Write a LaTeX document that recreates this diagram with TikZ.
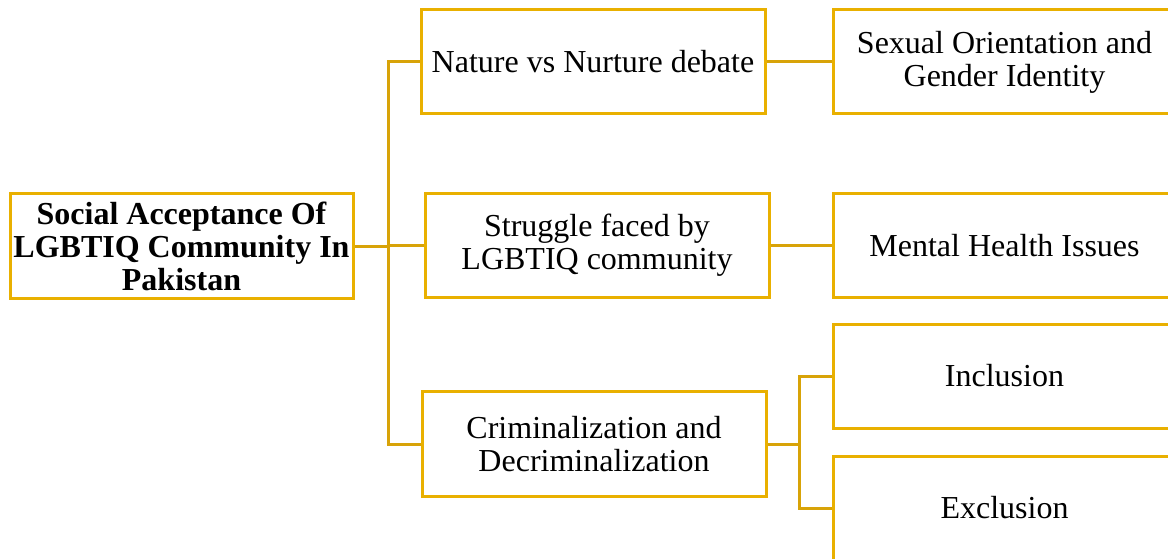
\documentclass[tikz,border=0pt]{standalone}
\usepackage{fontspec}
\setmainfont{Liberation Serif}
\definecolor{boxgold}{RGB}{233,176,0}
\definecolor{linegold}{RGB}{216,163,8}
\tikzset{
  box/.style={draw=boxgold, line width=3pt, fill=white, inner sep=0pt,
    minimum width=344pt, minimum height=104pt, align=center,
    font=\fontsize{32}{33}\selectfont, text=black},
  conn/.style={draw=linegold, line width=3pt, line join=miter}
}
\begin{document}
\begin{tikzpicture}[x=1pt,y=-1pt]
\useasboundingbox (0,0) rectangle (1168,559);
\clip (0,0) rectangle (1168,559);
\coordinate (t1) at (388,62);
\coordinate (t3) at (388,444);
\coordinate (cj) at (799,444);
\node[box, font=\bfseries\fontsize{32}{33}\selectfont, minimum width=343pt] (root) at (181.5,246)
  {Social Acceptance Of\\LGBTIQ Community In\\Pakistan};
\node[box] (nature) at (593,62) {Nature vs Nurture debate};
\node[box] (struggle) at (597,245.5) {Struggle faced by\\LGBTIQ community};
\node[box, minimum height=105pt] (crim) at (594,444) {Criminalization and\\Decriminalization};
\node[box, minimum width=343pt] (sexual) at (1004.5,62) {Sexual Orientation and\\Gender Identity};
\node[box, minimum width=343pt] (mental) at (1004.5,245.5) {Mental Health Issues};
\node[box, minimum width=343pt] (incl) at (1004.5,376) {Inclusion};
\node[box, minimum width=343pt] (excl) at (1004.5,508) {Exclusion};
% tree lines
\draw[conn] (nature.west) -- (t1) -- (t3) -- (crim.west);
\draw[conn] (root.east) -- (root.east -| t1);
\draw[conn] (struggle.west -| t1) -- (struggle.west);
\draw[conn] (nature.east) -- (sexual.west);
\draw[conn] (struggle.east) -- (mental.west);
\draw[conn] (crim.east) -- (cj);
\draw[conn] (incl.west) -- (cj |- incl.west) -- (cj |- excl.west) -- (excl.west);
\end{tikzpicture}
\end{document}
